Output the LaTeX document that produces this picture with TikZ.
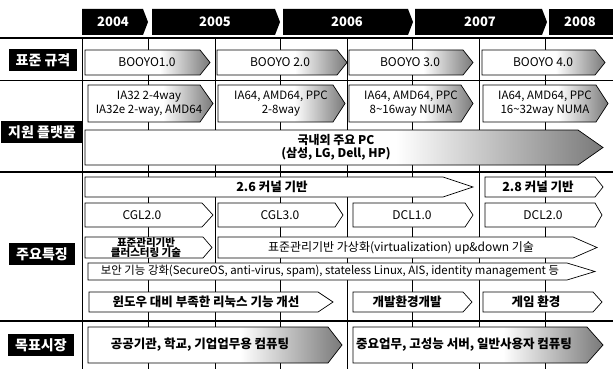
\documentclass[tikz,border=0pt]{standalone}
\usepackage{fontspec}
\setmainfont{Noto Sans CJK KR}
\pgfdeclarehorizontalshading{tipfade}{100bp}{color(0bp)=(white); color(55bp)=(white); color(76bp)=(black!55); color(100bp)=(black!80)}
\tikzstyle{every node}=[font=\fontsize{12}{14}\selectfont, align=center, inner sep=0pt]
\tikzstyle{kr}=[font=\bfseries\fontsize{12.5}{14}\selectfont]
\tikzstyle{yeartext}=[white, font=\bfseries\fontsize{13}{15}\selectfont]
\tikzstyle{rowlabel}=[fill=black, text=white, font=\bfseries\fontsize{14}{16}\selectfont, minimum height=22pt, inner xsep=7pt]
\tikzstyle{plain}=[draw, fill=white, line width=0.7pt]
\tikzstyle{faded}=[draw, line width=0.7pt, shading=tipfade]

\begin{document}
\begin{tikzpicture}[x=1pt, y=-1pt]
\useasboundingbox (0,0) rectangle (613,369);
% Grid
    \draw[line width=0.5pt] (148,38) -- (148,369);
    \draw[line width=0.5pt] (280,38) -- (280,369);
    \draw[line width=0.5pt] (412,38) -- (412,369);
    \draw[line width=0.5pt] (545,38) -- (545,369);
    \draw[line width=0.8pt] (215,38) -- (215,369);
    \draw[line width=0.8pt] (347,38) -- (347,369);
    \draw[line width=0.8pt] (479,38) -- (479,369);
    \draw[line width=1pt] (82,38) -- (82,369);
    \draw[line width=0.6pt] (0,80) -- (613,80);
    \draw[line width=1.6pt] (0,38) -- (613,38);
    \draw[line width=1.6pt] (0,172) -- (613,172);
    \draw[line width=1.6pt] (0,321) -- (613,321);
% Years
    \fill (82,9) -- (143,9) -- (148,22) -- (143,35) -- (82,35) -- cycle;
    \fill (152,9) -- (275,9) -- (280,22) -- (275,35) -- (152,35) -- cycle;
    \fill (283,9) -- (408,9) -- (413,22) -- (408,35) -- (283,35) -- cycle;
    \fill (415,9) -- (542,9) -- (547,22) -- (542,35) -- (415,35) -- cycle;
    \fill (549,9) rectangle (613,35);
    \node[yeartext] (y2004) at (113,22) {2004};
    \node[yeartext] (y2005) at (215,22) {2005};
    \node[yeartext] (y2006) at (347,22) {2006};
    \node[yeartext] (y2007) at (480,22) {2007};
    \node[yeartext] (y2008) at (580,22) {2008};
% Row labels
    \node[rowlabel] (std) at (43,60) {표준 규격};
    \node[rowlabel] (plat) at (42,132) {지원 플랫폼};
    \node[rowlabel] (feat) at (42,254) {주요특징};
    \node[rowlabel] (mkt) at (41,345) {목표시장};
% Standard
    \draw[faded] (85,50) -- (200,50) -- (210,62.5) -- (200,75) -- (85,75) -- cycle;
    \draw[faded] (217,50) -- (337,50) -- (347,62.5) -- (337,75) -- (217,75) -- cycle;
    \draw[faded] (349,50) -- (463,50) -- (473,62.5) -- (463,75) -- (349,75) -- cycle;
    \draw[faded] (482,50) -- (595,50) -- (605,62.5) -- (595,75) -- (482,75) -- cycle;
    \node (booyo1) at (147,62.5) {BOOYO1.0};
    \node (booyo2) at (280,62.5) {BOOYO 2.0};
    \node (booyo3) at (410,62.5) {BOOYO 3.0};
    \node (booyo4) at (543,62.5) {BOOYO 4.0};
% Platforms
    \draw[faded] (88,85) -- (200,85) -- (213,103.5) -- (200,122) -- (88,122) -- cycle;
    \draw[faded] (218,85) -- (333,85) -- (345,103.5) -- (333,122) -- (218,122) -- cycle;
    \draw[faded] (349,85) -- (461,85) -- (473,103.5) -- (461,122) -- (349,122) -- cycle;
    \draw[faded] (483,85) -- (596,85) -- (608,103.5) -- (596,122) -- (483,122) -- cycle;
    \draw[faded] (85,130) -- (578,130) -- (603,147.5) -- (578,165) -- (85,165) -- cycle;
    \node[font=\fontsize{11.5}{14}\selectfont] (ia32) at (149,104) {IA32 2-4way\\IA32e 2-way, AMD64};
    \node[font=\fontsize{11.5}{14}\selectfont] (ia64a) at (281,104) {IA64, AMD64, PPC\\2-8way};
    \node[font=\fontsize{11.5}{14}\selectfont] (ia64b) at (411,104) {IA64, AMD64, PPC\\8\textasciitilde16way NUMA};
    \node[font=\fontsize{11.5}{14}\selectfont] (ia64c) at (545,104) {IA64, AMD64, PPC\\16\textasciitilde32way NUMA};
    \node[kr, font=\bfseries\fontsize{12}{13}\selectfont] (pcs) at (336,147) {국내외 주요 PC\\(삼성, LG, Dell, HP)};
% Features
    \draw[plain] (85,177) -- (443,177) -- (473,187) -- (443,197) -- (85,197) -- cycle;
    \draw[plain] (485,177) -- (595,177) -- (603,187) -- (595,197) -- (485,197) -- cycle;
    \draw[plain] (85,203) -- (202,203) -- (213,215) -- (202,227) -- (85,227) -- cycle;
    \draw[plain] (218,203) -- (335,203) -- (343,215) -- (335,227) -- (218,227) -- cycle;
    \draw[plain] (353,203) -- (465,203) -- (473,215) -- (465,227) -- (353,227) -- cycle;
    \draw[plain] (485,203) -- (595,203) -- (602,215) -- (595,227) -- (485,227) -- cycle;
    \draw[plain] (85,237) -- (203,237) -- (212,247.5) -- (203,258) -- (85,258) -- cycle;
    \draw[plain] (218,237) -- (573,237) -- (597,247.5) -- (573,258) -- (218,258) -- cycle;
    \draw[plain] (88,263) -- (567,263) -- (595,271.5) -- (567,280) -- (88,280) -- cycle;
    \draw[plain] (89,292) -- (318,292) -- (333,302) -- (318,312) -- (89,312) -- cycle;
    \draw[plain] (353,292) -- (463,292) -- (472,302) -- (463,312) -- (353,312) -- cycle;
    \draw[plain] (483,292) -- (593,292) -- (602,302) -- (593,312) -- (483,312) -- cycle;
    \node[kr] (kern1) at (272,187) {2.6 커널 기반};
    \node[kr] (kern2) at (538,187) {2.8 커널 기반};
    \node (cgl2) at (142,215) {CGL2.0};
    \node (cgl3) at (280,215) {CGL3.0};
    \node (dcl1) at (412,215) {DCL1.0};
    \node (dcl2) at (543,215) {DCL2.0};
    \node[font=\bfseries\fontsize{10.5}{10}\selectfont] (clus) at (146,247.5) {표준관리기반\\클러스터링 기술};
    \node (virt) at (401,247.5) {표준관리기반 가상화(virtualization) up\&down 기술};
    \node[font=\fontsize{11.4}{13}\selectfont] (sec) at (330,271.5) {보안 기능 강화(SecureOS, anti-virus, spam), stateless Linux, AIS, identity management 등};
    \node[kr] (win) at (206,302) {윈도우 대비 부족한 리눅스 기능 개선};
    \node[kr] (dev) at (407,302) {개발환경개발};
    \node[kr] (game) at (536,302) {게임 환경};
% Markets
    \draw[faded] (88,327) -- (328,327) -- (342,345) -- (328,363) -- (88,363) -- cycle;
    \draw[faded] (353,327) -- (587,327) -- (603,345) -- (587,363) -- (353,363) -- cycle;
    \node[kr] (pub) at (200,345) {공공기관, 학교, 기업업무용 컴퓨팅};
    \node[kr, anchor=west] (srv) at (356,345) {중요업무, 고성능 서버, 일반사용자 컴퓨팅};
\end{tikzpicture}
\end{document}
